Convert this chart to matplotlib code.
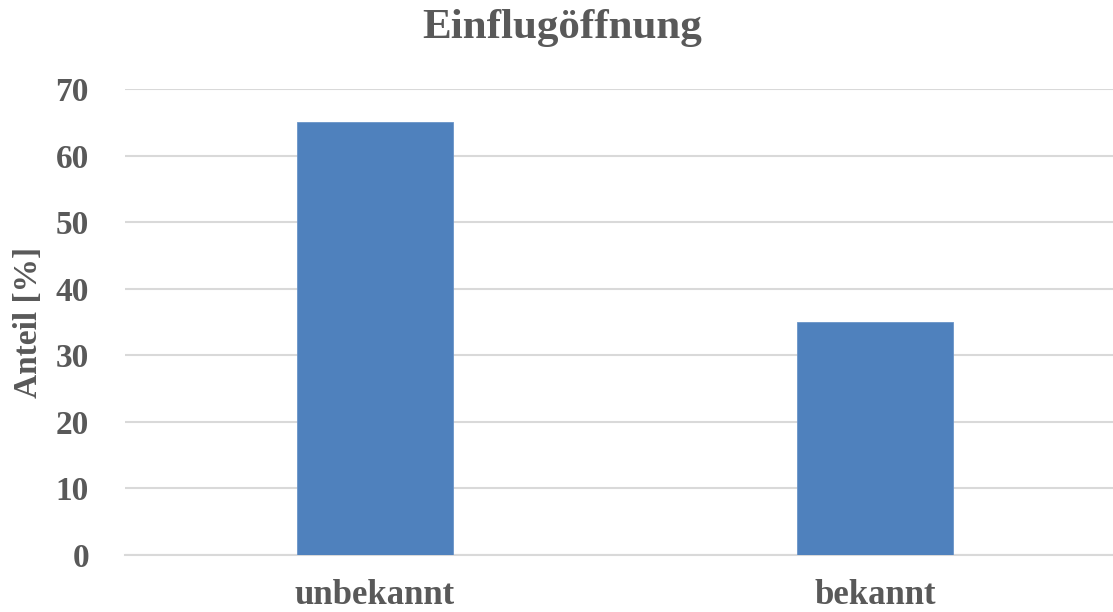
# Einflugöffnung - Balkendiagramm

import matplotlib
matplotlib.use("Agg")
import matplotlib.pyplot as plt

kategorien = ["unbekannt", "bekannt"]
anteile = [65, 35]
y_ticks = [0, 10, 20, 30, 40, 50, 60, 70]

grau = "#595959"
plt.rcParams["font.family"] = ["Liberation Serif", "DejaVu Serif"]
plt.rcParams["font.weight"] = "bold"

fig = plt.figure(figsize=(11.13, 6.12), dpi=100)
ax = fig.add_axes([125 / 1113, 1 - 555 / 612, 988 / 1113, (555 - 89) / 612])

x = range(len(kategorien))
ax.bar(x, anteile, width=0.312, color="#4F81BD", edgecolor="#6A94C8", linewidth=0.6, zorder=3)

ax.set_xlim(-0.5, 1.476)
ax.set_ylim(0, 70)
ax.set_yticks(y_ticks)
ax.set_xticks(list(x))
ax.set_xticklabels(kategorien)
ax.grid(axis="y", color="#D9D9D9", linewidth=1.5, zorder=0)
ax.tick_params(axis="both", length=0, colors=grau, labelsize=24)
ax.tick_params(axis="x", pad=17, labelsize=25)
ax.tick_params(axis="y", pad=26)
for lab in ax.get_xticklabels() + ax.get_yticklabels():
    lab.set_fontweight("bold")
for s in ["top", "right", "left"]:
    ax.spines[s].set_visible(False)
ax.spines["bottom"].set_color("#D9D9D9")
ax.spines["bottom"].set_linewidth(1.5)

ax.set_ylabel("Anteil [%]", fontsize=24, fontweight="bold", color=grau, labelpad=8)
fig.text(562 / 1113, 1 - 28 / 612, "Einflugöffnung", ha="center", va="center",
         fontsize=31, fontweight="bold", color=grau)

fig.savefig("out.png", dpi=100)
